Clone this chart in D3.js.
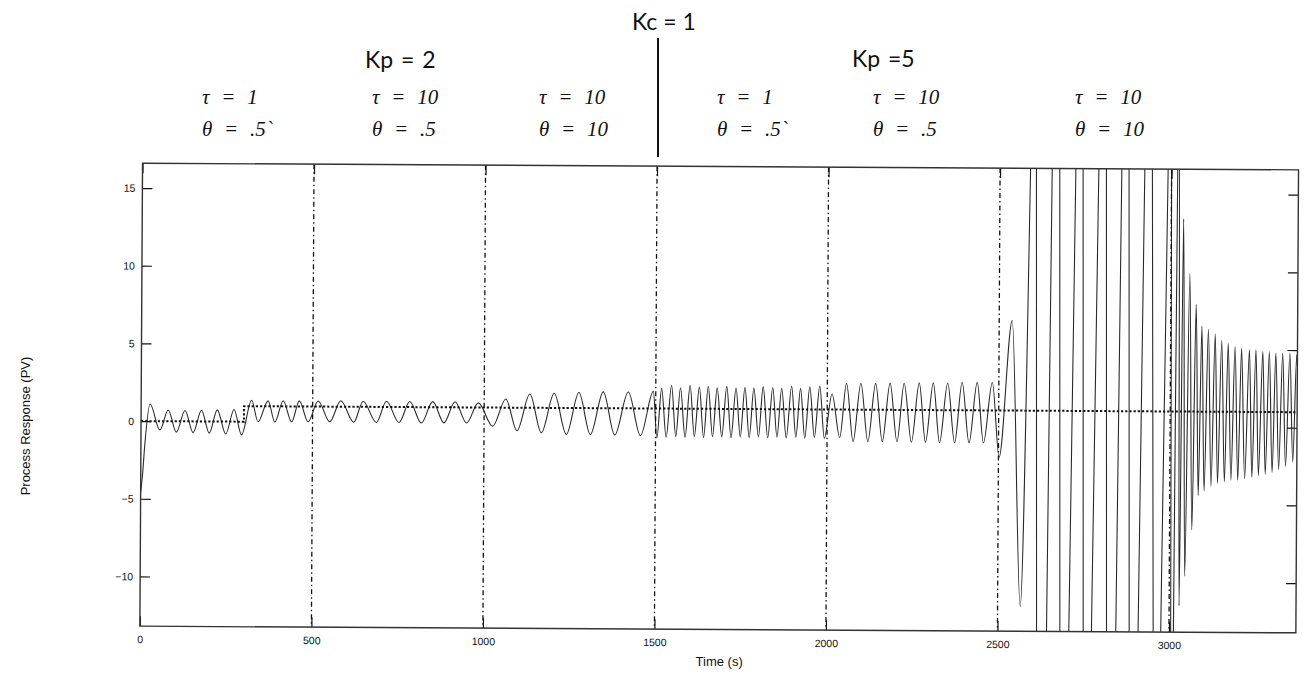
<!DOCTYPE html>
<html>
<head>
<meta charset="utf-8">
<script src="https://cdn.jsdelivr.net/npm/d3@7"></script>
<style>
  html, body { margin: 0; padding: 0; background: #fff; }
  svg { display: block; }
</style>
</head>
<body>
<svg id="chart" width="1309" height="674"></svg>
<script>
// ---- Axis definitions -------------------------------------------------
const xDomain = [0, 3370];
const yDomain = [-13.2, 16.6];
const xTicks = [0, 500, 1000, 1500, 2000, 2500, 3000];
const yTicks = [-10, -5, 0, 5, 10, 15];

// Times where the process parameters change (dash-dot separators)
const boundaries = [500, 1000, 1500, 2000, 2500, 3000];

// Setpoint (SP) trajectory
const setpointTime  = [0, 300, 300, 3370];
const setpointValue = [0, 0, 1, 1];

// ---- Process response (PV): turning points per operating region ----------
// Kp = 2, tau = 1, theta = .5
const pvTime1  = [0, 5, 11, 26, 55, 79, 103, 128, 152, 176, 199, 222, 247, 271, 293];
const pvValue1 = [-4.6, -3.5, -1.6, 1.1, -0.57, 0.72, -0.7, 0.7, -0.72, 0.72, -0.75, 0.75, -0.8, 0.78, -0.85];
// after the setpoint step
const pvTime2  = [322, 341, 370, 390, 414, 439, 461, 487];
const pvValue2 = [1.38, 0.0, 1.35, -0.02, 1.36, 0.0, 1.36, 0.02];
// Kp = 2, tau = 10, theta = .5
const pvTime3  = [516, 550, 582, 620, 647, 686, 715, 752, 783, 817, 850, 883, 915, 949, 983];
const pvValue3 = [1.36, 0.03, 1.38, 0.0, 1.36, 0.0, 1.37, 0.0, 1.36, -0.02, 1.36, 0.0, 1.36, 0.0, 1.3];
// Kp = 2, tau = 10, theta = 10
const pvTime4  = [1025, 1063, 1096, 1133, 1167, 1204, 1240, 1276, 1310, 1347, 1381, 1420, 1456, 1493];
const pvValue4 = [-0.2, 1.56, -0.48, 1.89, -0.6, 1.94, -0.7, 2.0, -0.7, 2.05, -0.72, 2.05, -0.75, 2.1];
// Kp = 5, tau = 1, theta = .5
const pvTime5  = [1504, 1517, 1531, 1546, 1559, 1572, 1586, 1600, 1613, 1627, 1640, 1653, 1666, 1679,
                  1693, 1707, 1720, 1734, 1747, 1760, 1773, 1786, 1800, 1813, 1827, 1841, 1854, 1867,
                  1881, 1896, 1909, 1922, 1935, 1949, 1963, 1978, 1992];
const pvValue5 = [-0.9, 2.3, -0.85, 2.5, -0.8, 2.35, -0.85, 2.5, -0.8, 2.4, -0.85, 2.45, -0.8, 2.35,
                  -0.8, 2.45, -0.85, 2.35, -0.8, 2.4, -0.85, 2.35, -0.8, 2.45, -0.85, 2.4, -0.8, 2.35,
                  -0.85, 2.5, -0.8, 2.35, -0.85, 2.45, -0.8, 2.5, -0.85];
// Kp = 5, tau = 10, theta = .5
const pvTime6  = [2014, 2037, 2056, 2076, 2098, 2119, 2141, 2161, 2183, 2204, 2224, 2246,
                  2268, 2287, 2309, 2328, 2351, 2372, 2393, 2414, 2437, 2456, 2481];
const pvValue6 = [2.0, -0.8, 2.7, -1.05, 2.7, -1.05, 2.7, -1.05, 2.72, -1.05, 2.72, -1.08,
                  2.75, -1.08, 2.75, -1.1, 2.75, -1.1, 2.8, -1.1, 2.8, -1.1, 2.8];
// Kp = 5, tau = 10, theta = 10 (runs off the axis limits)
const pvTime7  = [2502, 2538, 2566, 2589, 2597, 2606, 2614, 2628, 2643, 2652, 2663, 2674, 2682, 2695, 2708,
                  2721, 2731, 2742, 2750, 2762, 2774, 2788, 2799, 2810, 2818, 2831, 2845,
                  2855, 2865, 2876, 2884, 2897, 2910, 2922, 2933, 2944, 2954, 2965, 2976, 2990];
const pvValue7 = [-2.0, 6.8, -11.6, 16.6, 30, 16.6, -13.2, -32, -13.2, 16.6, 40, 16.6, -13.2, -40, -13.2,
                  16.6, 40, 16.6, -13.2, -40, -13.2, 16.6, 40, 16.6, -13.2, -40, -13.2,
                  16.6, 40, 16.6, -13.2, -40, -13.2, 16.6, 40, 16.6, -13.2, -40, -13.2, 16.6];
// final region: decaying fast oscillation
const pvTime8  = [2995, 3000, 3005, 3009, 3013, 3018, 3022, 3029, 3036, 3045, 3055, 3065, 3074, 3083, 3091,
                  3100, 3110, 3120, 3130, 3139, 3149, 3159, 3168, 3178, 3188, 3198, 3207, 3218, 3230,
                  3239, 3249, 3258, 3269, 3278, 3288, 3298, 3307, 3317, 3327, 3337, 3348, 3358, 3368, 3370];
const pvValue8 = [24, 16.6, -13.2, -20, -13.2, 16.6, 19, -11.5, 13.4, -9.6, 9.9, -6.6, 7.9, -4.4, 6.5,
                  -4.1, 6.3, -3.8, 6.0, -3.6, 5.6, -3.5, 5.4, -3.4, 5.2, -3.4, 5.1, -3.3, 5.0,
                  -3.2, 5.0, -3.1, 4.9, -3.0, 4.9, -2.9, 4.8, -2.7, 4.8, -2.5, 4.8, -2.2, 4.7, 4.0];

// ---- Annotation text ---------------------------------------------------
const kcLabel = "Kc = 1";
const kpLabels = ["Kp = 2", "Kp =5"];
const tauLabels = ["τ = 1", "τ = 10", "τ = 10", "τ = 1", "τ = 10", "τ = 10"];
const thetaLabels = ["θ = .5`", "θ = .5", "θ = 10", "θ = .5`", "θ = .5", "θ = 10"];
const xAxisTitle = "Time (s)";
const yAxisTitle = "Process Response (PV)";

// ---- Layout -------------------------------------------------------------
const layout = {
  plot: { left: 141.2, right: 1297.2, top: 166.5, bottom: 629.5 },
  tilt: 0.33,
  tickLen: 10,
  kc: { x: 632, y: 30, lineX: 658, lineTop: 38, lineBottom: 157 },
  kp: [{ x: 365, y: 68 }, { x: 852, y: 67 }],
  paramX: [202, 372, 539, 717, 873, 1075],
  tauY: 104,
  thetaY: 136
};

const svg = d3.select("#chart");
const P = layout.plot;
const cx = (P.left + P.right) / 2, cy = (P.top + P.bottom) / 2;

const x = d3.scaleLinear().domain(xDomain).range([P.left, P.right]);
const y = d3.scaleLinear().domain(yDomain).range([P.bottom, P.top]);

const g = svg.append("g")
  .attr("transform", `rotate(${layout.tilt},${cx},${cy})`);

g.append("clipPath").attr("id", "plot-clip")
  .append("rect")
  .attr("x", P.left).attr("y", P.top)
  .attr("width", P.right - P.left).attr("height", P.bottom - P.top);

// Process response
const pvSegments = [
  [pvTime1, pvValue1], [pvTime2, pvValue2], [pvTime3, pvValue3], [pvTime4, pvValue4],
  [pvTime5, pvValue5], [pvTime6, pvValue6], [pvTime7, pvValue7], [pvTime8, pvValue8]
];
const pv = pvSegments.flatMap(([ts, vs]) => ts.map((t, i) => [t, vs[i]]));

const pvLine = d3.line()
  .x(d => x(d[0]))
  .y(d => y(d[1]))
  .curve(d3.curveMonotoneX);

g.append("path")
  .datum(pv)
  .attr("clip-path", "url(#plot-clip)")
  .attr("fill", "none")
  .attr("stroke", "#2a2a2a")
  .attr("stroke-width", 1.1)
  .attr("stroke-linejoin", "round")
  .attr("d", pvLine);

// Setpoint
const sp = setpointTime.map((t, i) => [t, setpointValue[i]]);
g.append("path")
  .datum(sp)
  .attr("fill", "none")
  .attr("stroke", "#111")
  .attr("stroke-width", 2)
  .attr("stroke-dasharray", "2.2,2")
  .attr("d", d3.line().x(d => x(d[0])).y(d => y(d[1])));

// Region separators
g.selectAll("line.sep")
  .data(boundaries)
  .join("line")
  .attr("class", "sep")
  .attr("x1", d => x(d)).attr("x2", d => x(d))
  .attr("y1", P.top).attr("y2", P.bottom)
  .attr("stroke", "#111")
  .attr("stroke-width", 1.3)
  .attr("stroke-dasharray", "5,3,1.5,3");

// Axes (ticks pointing inward, MATLAB style)
const fontAxis = "'Liberation Sans', Arial, Helvetica, sans-serif";
const tl = layout.tickLen;
const fmt = d3.format("d");

const axB = g.append("g").attr("transform", `translate(0,${P.bottom})`)
  .call(d3.axisBottom(x).tickValues(xTicks).tickFormat(fmt)
    .tickSizeInner(-tl).tickSizeOuter(0).tickPadding(9.5));
const axT = g.append("g").attr("transform", `translate(0,${P.top})`)
  .call(d3.axisTop(x).tickValues(xTicks).tickSizeInner(-tl).tickSizeOuter(0).tickFormat(""));
const axL = g.append("g").attr("transform", `translate(${P.left},0)`)
  .call(d3.axisLeft(y).tickValues(yTicks).tickFormat(fmt)
    .tickSizeInner(-tl).tickSizeOuter(0).tickPadding(7));
const axR = g.append("g").attr("transform", `translate(${P.right},0)`)
  .call(d3.axisRight(y).tickValues(yTicks).tickSizeInner(-tl).tickSizeOuter(0).tickFormat(""));

[axB, axT, axL, axR].forEach(a => {
  a.select(".domain").remove();
  a.selectAll(".tick line").attr("stroke", "#111").attr("stroke-width", 1.2);
  a.selectAll(".tick text")
    .attr("fill", "#111")
    .style("font-family", fontAxis)
    .style("font-size", "10.5px");
});

// Plot box
g.append("rect")
  .attr("x", P.left).attr("y", P.top)
  .attr("width", P.right - P.left).attr("height", P.bottom - P.top)
  .attr("fill", "none")
  .attr("stroke", "#333")
  .attr("stroke-width", 1.4);

// Axis titles
svg.append("text")
  .attr("x", cx).attr("y", 666)
  .attr("text-anchor", "middle")
  .style("font-family", fontAxis).style("font-size", "13px")
  .attr("fill", "#111")
  .text(xAxisTitle);

svg.append("text")
  .attr("transform", `translate(30,426) rotate(-90)`)
  .attr("text-anchor", "middle")
  .style("font-family", fontAxis).style("font-size", "13px")
  .attr("fill", "#111")
  .text(yAxisTitle);

// Header annotations
const fontHead = "Lato, 'Open Sans', sans-serif";
const fontMath = "'Liberation Serif', 'Times New Roman', serif";

svg.append("text")
  .attr("x", layout.kc.x).attr("y", layout.kc.y)
  .style("font-family", fontHead).style("font-size", "23px")
  .attr("fill", "#111")
  .text(kcLabel);

svg.append("line")
  .attr("x1", layout.kc.lineX).attr("x2", layout.kc.lineX)
  .attr("y1", layout.kc.lineTop).attr("y2", layout.kc.lineBottom)
  .attr("stroke", "#111").attr("stroke-width", 2);

svg.selectAll("text.kp")
  .data(kpLabels)
  .join("text")
  .attr("class", "kp")
  .attr("x", (d, i) => layout.kp[i].x)
  .attr("y", (d, i) => layout.kp[i].y)
  .style("font-family", fontHead).style("font-size", "23px")
  .style("word-spacing", "2px")
  .attr("fill", "#111")
  .text(d => d);

svg.selectAll("text.tau")
  .data(tauLabels)
  .join("text")
  .attr("class", "tau")
  .attr("x", (d, i) => layout.paramX[i])
  .attr("y", layout.tauY)
  .style("font-family", fontMath).style("font-size", "21px")
  .style("font-style", "italic")
  .style("word-spacing", "6.5px")
  .attr("fill", "#111")
  .text(d => d);

svg.selectAll("text.theta")
  .data(thetaLabels)
  .join("text")
  .attr("class", "theta")
  .attr("x", (d, i) => layout.paramX[i])
  .attr("y", layout.thetaY)
  .style("font-family", fontMath).style("font-size", "21px")
  .style("font-style", "italic")
  .style("word-spacing", "6.5px")
  .attr("fill", "#111")
  .text(d => d);
</script>
</body>
</html>
